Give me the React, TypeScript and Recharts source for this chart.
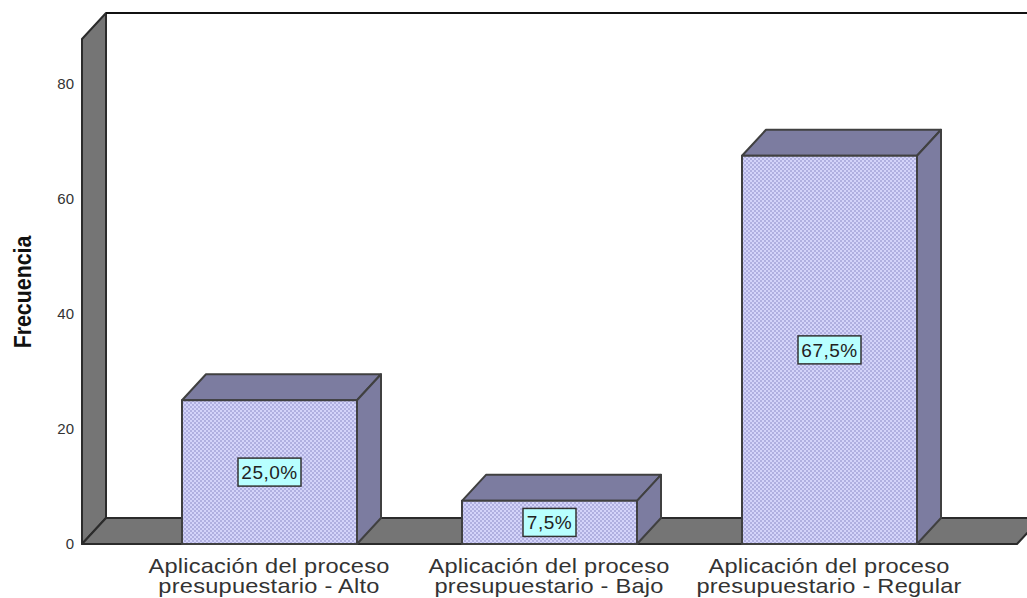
import React from 'react'
import { BarChart, Bar, XAxis, YAxis, ReferenceArea, LabelList, Label } from 'recharts'

const categories = [
	['Aplicación del proceso', 'presupuestario - Alto'],
	['Aplicación del proceso', 'presupuestario - Bajo'],
	['Aplicación del proceso', 'presupuestario - Regular'],
]
const frequencies = [25, 7.5, 67.5]
const percentLabels = ['25,0%', '7,5%', '67,5%']
const yTicks = [0, 20, 40, 60, 80]

const data = categories.map((lines, i) => ({
	name: lines.join(' '),
	frecuencia: frequencies[i],
	pct: percentLabels[i],
}))

const W = 1027
const H = 598
const DX = 24
const DY = 26
const FONT = '"Liberation Sans", Arial, sans-serif'
const LINE = '#2b2b2b'

function Walls({ y, height }: any) {
	const left = 82
	const right = 1017
	const top = y
	const bottom = y + height
	return (
		<g stroke={LINE} strokeWidth={2} strokeLinejoin='round'>
			<polygon fill='#757575' points={`${left},${top} ${left + DX},${top - DY} ${left + DX},${bottom - DY} ${left},${bottom}`} />
			<polygon fill='#757575' points={`${left},${bottom} ${left + DX},${bottom - DY} ${right + DX},${bottom - DY} ${right},${bottom}`} />
			<line x1={left + DX} y1={top - DY} x2={W} y2={top - DY} stroke='#111' />
		</g>
	)
}

function Box({ x, y, width, height }: any) {
	const r = x + width
	const b = y + height
	return (
		<g stroke='#404040' strokeWidth={2} strokeLinejoin='round'>
			<polygon fill='#7c7ca0' points={`${x},${y} ${x + DX},${y - DY} ${r + DX},${y - DY} ${r},${y}`} />
			<polygon fill='#7c7ca0' points={`${r},${y} ${r + DX},${y - DY} ${r + DX},${b - DY} ${r},${b}`} />
			<rect x={x} y={y} width={width} height={height} fill='url(#dots)' />
		</g>
	)
}

function PctLabel({ x, y, width, height, value }: any) {
	const cx = x + width / 2
	const cy = y + height / 2
	const w = String(value).length * 10 + 13
	return (
		<g>
			<rect x={cx - w / 2} y={cy - 14} width={w} height={28} fill='#b8ffff' stroke='#333' strokeWidth={1.5} />
			<text x={cx} y={cy + 7} textAnchor='middle' fontFamily={FONT} fontSize={19} letterSpacing={0.5} fill='#222'>
				{value}
			</text>
		</g>
	)
}

function CategoryTick({ x, y, index }: any) {
	return (
		<text
			transform={`translate(${x},0) scale(1.18,1)`}
			textAnchor='middle'
			fontFamily={FONT}
			fontSize={20}
			fill='#333'
			letterSpacing={0.2}
		>
			{categories[index].map((line, i) => (
				<tspan key={i} x={0} y={y + 21 + i * 20.5}>
					{line}
				</tspan>
			))}
		</text>
	)
}

export default function App() {
	return (
		<div style={{ position: 'absolute', left: 0, top: 0, width: W, height: H, background: '#fff' }}>
			<BarChart
				width={W}
				height={H}
				data={data}
				margin={{ top: 39, right: 10, bottom: 0, left: 0 }}
				barCategoryGap={105}
			>
				<defs>
					<pattern id='dots' width={4} height={4} patternUnits='userSpaceOnUse'>
						<rect width={4} height={4} fill='#d4d4fa' />
						<rect width={2} height={2} fill='#b0b0e0' />
						<rect x={2} y={2} width={2} height={2} fill='#b0b0e0' />
					</pattern>
				</defs>
				<ReferenceArea y1={0} y2={87.8} shape={<Walls />} />
				<XAxis
					dataKey='name'
					height={54}
					axisLine={false}
					tickLine={false}
					interval={0}
					padding={{ left: 47, right: 48 }}
					tick={<CategoryTick />}
				/>
				<YAxis
					width={82}
					domain={[0, 87.8]}
					ticks={yTicks}
					axisLine={false}
					tickLine={false}
					tickSize={0}
					tickMargin={8}
					tick={{ fontFamily: FONT, fontSize: 15, fill: '#333' }}
				>
					<Label
						content={() => (
							<text
								transform='translate(31,292) rotate(-90) scale(0.89,1)'
								textAnchor='middle'
								fontFamily={FONT}
								fontSize={24}
								fontWeight='bold'
								fill='#111'
							>
								Frecuencia
							</text>
						)}
					/>
				</YAxis>
				<Bar dataKey='frecuencia' barSize={175} shape={<Box />} isAnimationActive={false}>
					<LabelList dataKey='pct' content={<PctLabel />} />
				</Bar>
			</BarChart>
		</div>
	)
}
